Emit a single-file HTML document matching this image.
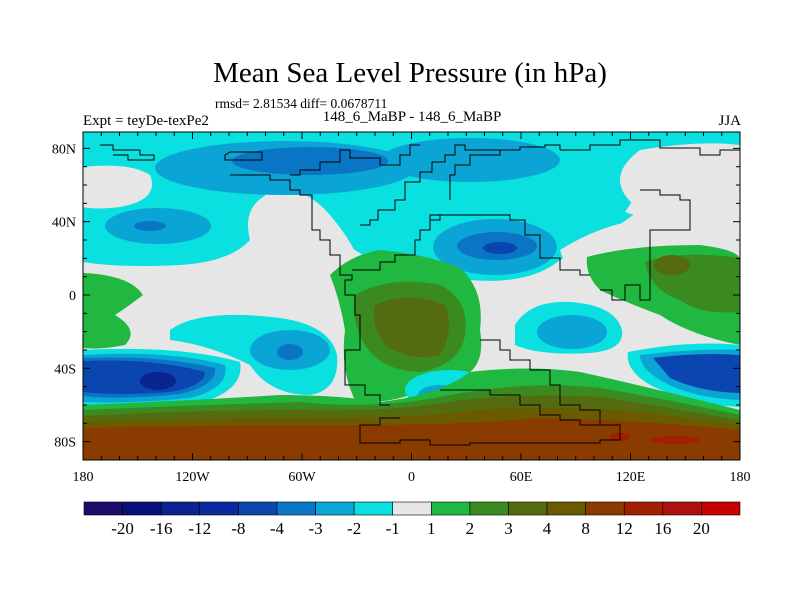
<!DOCTYPE html>
<html><head><meta charset="utf-8"><style>
body{margin:0;background:#fff;width:800px;height:600px;overflow:hidden}
svg{display:block;font-family:"Liberation Serif",serif}
</style></head><body>
<svg id="chart" width="800" height="600" viewBox="0 0 800 600">
<text x="410" y="82" font-size="29" text-anchor="middle">Mean Sea Level Pressure (in hPa)</text>
<text x="215" y="108" font-size="13.5">rmsd= 2.81534 diff= 0.0678711</text>
<text x="83" y="125" font-size="15">Expt = teyDe-texPe2</text>
<text x="412" y="121" font-size="15" text-anchor="middle">148_6_MaBP - 148_6_MaBP</text>
<text x="741" y="125" font-size="15" text-anchor="end">JJA</text>
<defs><clipPath id="mc"><rect x="83" y="132" width="657" height="328"/></clipPath></defs>
<g clip-path="url(#mc)">
<rect x="83" y="132" width="657" height="328" fill="#e6e6e6"/>
<!-- northern cyan -->
<path d="M83 132H740V150Q700 145 640 150Q600 180 640 210Q600 240 560 260Q530 285 470 280Q420 290 390 270Q350 250 330 230Q300 200 280 190Q240 200 250 240Q230 262 180 265Q120 268 83 262Z" fill="#0ae0e0"/>
<path d="M83 167Q130 162 150 175Q160 200 120 207Q95 210 83 207Z" fill="#e6e6e6"/>
<path d="M265 195Q300 180 330 215Q355 245 360 265Q330 280 300 280Q270 260 265 230Z" fill="#e6e6e6"/>
<path d="M640 150Q700 140 740 145V210Q700 205 680 215Q650 222 625 212Q640 190 650 175Z" fill="#e6e6e6"/>
<path d="M560 250Q600 225 640 220Q700 215 740 240V300Q650 300 570 280Z" fill="#e6e6e6"/>
<ellipse cx="285" cy="168" rx="130" ry="27" fill="#0aa5d5"/>
<ellipse cx="470" cy="160" rx="90" ry="22" fill="#0aa5d5"/>
<ellipse cx="310" cy="161" rx="78" ry="14" fill="#0a75c5"/>
<ellipse cx="158" cy="226" rx="53" ry="18" fill="#0aa5d5"/>
<ellipse cx="150" cy="226" rx="16" ry="5" fill="#0a75c5"/>
<ellipse cx="495" cy="247" rx="62" ry="28" fill="#0aa5d5"/>
<ellipse cx="497" cy="246" rx="40" ry="14" fill="#0a75c5"/>
<ellipse cx="500" cy="248" rx="17" ry="6" fill="#0a45b0"/>
<!-- greens -->
<path d="M83 273Q130 275 143 295Q130 305 115 315Q140 330 125 345Q100 350 83 348Z" fill="#20b840"/>
<path d="M330 275Q350 255 380 250Q430 255 460 268Q485 290 480 330Q485 360 470 372Q430 380 410 395Q380 405 355 400Q340 370 345 330Q340 300 330 275Z" fill="#20b840"/>
<path d="M355 295Q390 275 440 285Q470 300 465 335Q460 365 420 372Q380 370 365 345Q350 320 355 295Z" fill="#3a8a20"/>
<path d="M375 305Q410 290 445 305Q455 330 440 355Q410 362 385 345Q370 325 375 305Z" fill="#556b10"/>
<path d="M587 257Q630 245 700 245Q740 250 740 260V345Q690 335 660 315Q620 300 600 290Q585 275 587 257Z" fill="#20b840"/>
<path d="M645 262Q680 250 740 258V312Q700 315 680 300Q650 290 645 262Z" fill="#3a8a20"/>
<ellipse cx="672" cy="265" rx="18" ry="10" fill="#556b10"/>
<!-- southern lows -->
<path d="M170 330Q200 308 280 318Q330 325 337 355Q340 390 310 395Q270 395 250 365Q210 345 170 340Z" fill="#0ae0e0"/>
<ellipse cx="290" cy="350" rx="40" ry="20" fill="#0aa5d5"/>
<ellipse cx="290" cy="352" rx="13" ry="8" fill="#0a75c5"/>
<path d="M515 325Q530 300 570 302Q615 305 622 330Q625 350 590 353Q540 356 515 345Z" fill="#0ae0e0"/>
<ellipse cx="572" cy="332" rx="35" ry="17" fill="#0aa5d5"/>
<ellipse cx="450" cy="390" rx="45" ry="20" fill="#0ae0e0"/>
<ellipse cx="440" cy="395" rx="22" ry="10" fill="#0aa5d5"/>
<path d="M83 350Q180 345 240 362Q245 390 200 403Q140 410 83 408Z" fill="#0ae0e0"/>
<path d="M83 355Q170 350 225 365Q230 388 190 398Q130 404 83 402Z" fill="#0aa5d5"/>
<path d="M83 358Q160 355 215 368Q218 385 180 394Q120 400 83 396Z" fill="#0a75c5"/>
<path d="M83 361Q155 358 205 372Q205 386 170 392Q120 396 83 392Z" fill="#0a45b0"/>
<ellipse cx="158" cy="381" rx="18" ry="9" fill="#0a2590"/>
<path d="M628 352Q690 340 740 345V407Q690 405 650 385Q625 370 628 352Z" fill="#0ae0e0"/>
<path d="M640 355Q700 348 740 350V400Q690 398 660 380Q640 368 640 355Z" fill="#0aa5d5"/>
<path d="M653 358Q700 352 740 355V393Q700 392 670 378Z" fill="#0a45b0"/>
<!-- southern high band -->
<path d="M83 405Q200 400 280 395Q340 395 380 402Q440 395 470 372Q530 365 580 372Q640 385 740 410V460H83Z" fill="#20b840"/>
<path d="M83 410Q200 405 300 402Q380 410 450 395Q530 380 600 388Q660 398 740 415V460H83Z" fill="#3a8a20"/>
<path d="M83 416Q200 410 300 410Q400 412 460 400Q540 392 610 398Q680 410 740 420V460H83Z" fill="#556b10"/>
<path d="M83 422Q200 418 320 418Q420 418 480 410Q560 405 640 412Q700 420 740 425V460H83Z" fill="#6b5a00"/>
<path d="M83 428Q220 425 360 425Q460 425 540 418Q640 420 740 430V460H83Z" fill="#8a3c00"/>
<ellipse cx="620" cy="437" rx="10" ry="4" fill="#a02000"/>
<ellipse cx="675" cy="440" rx="25" ry="4" fill="#a02000"/>
<!-- coastlines -->
<g fill="none" stroke="#000" stroke-width="1">
<path d="M100 145H113V150H140V155H154V160H128V155H113"/>
<path d="M230 152H262V160H225V155Z"/>
<path d="M230 175H270V180H290V190H300V195H312V230H320V240H330V255H340V275H352V280H345V295H355V315H360V350H345V385H365V395H380V405H390"/>
<path d="M290 175H300V170H320V162H340V150H350V158H380V165H400V155H410V145H420"/>
<path d="M360 225H370V220H378V210H395V200H405V182H420V172H432V162H445V155H455V145H465V150H520V147H545V145H560V150"/>
<path d="M352 270H380V262H395V255H415V240H420V230H430V220H440V215"/>
<path d="M430 225V215H450V215H510V220H525V235H540V258H560V270H580V275H590"/>
<path d="M480 150H500V155H470V165H455V175H450V200"/>
<path d="M560 150H590V145H620V140H660V148H700V155H720V150H740"/>
<path d="M640 190H660V195H680V200H690V230H650V300H640V285H625V300H612V290H600"/>
<path d="M480 340H500V350H510V360H530V370H550V385H560V405H580V410H600V425"/>
<path d="M440 390H490V395H520V405H540V415H560V420H580V425H620V440H600V443H470V445H430V440H400V443H360V425H380V418H400"/>
</g>
</g>
<rect x="83" y="132" width="657" height="328" fill="none" stroke="#000" stroke-width="1"/>
<g id="axes" font-size="14"></g>
<g id="cbar"></g>
<script>
const lonTicks=[-180,-120,-60,0,60,120,180];
const lonLabels=["180","120W","60W","0","60E","120E","180"];
const latTicks=[80,40,0,-40,-80];
const latLabels=["80N","40N","0","40S","80S"];
const levels=["-20","-16","-12","-8","-4","-3","-2","-1","1","2","3","4","8","12","16","20"];
const colors=["#1c0c6c","#0a0f7c","#0a2390","#0a2aa0","#0a48b0","#0a78c5","#0aa8d8","#0ae0e0","#e6e6e6","#20b840","#3a8a20","#556b10","#6b5a00","#8a3c00","#a02000","#b01010","#c80000"];
const NS="http://www.w3.org/2000/svg";
const X=l=>83+(l+180)/360*657, Y=l=>295-(l)*1.833;
const ax=document.getElementById('axes');
function mk(t,a,p){const e=document.createElementNS(NS,t);for(const k in a)e.setAttribute(k,a[k]);p.appendChild(e);return e;}
for(let l=-180;l<=180;l+=10){const x=X(l),len=l%60===0?7:4;
 const t1=mk('line',{x1:x,x2:x,y1:460,y2:460-len,stroke:'#000'},ax);
 const t2=mk('line',{x1:x,x2:x,y1:132,y2:132+len,stroke:'#000'},ax);}
for(let l=-90;l<=90;l+=10){const y=Y(l),len=l%40===0?7:4;if(y<132||y>460)continue;
 const t1=mk('line',{x1:83,x2:83+len,y1:y,y2:y,stroke:'#000'},ax);
 const t2=mk('line',{x1:740,x2:740-len,y1:y,y2:y,stroke:'#000'},ax);}
lonTicks.forEach((l,i)=>{const t=mk('text',{x:X(l),y:481,'text-anchor':'middle'},ax);t.textContent=lonLabels[i];
 });
latTicks.forEach((l,i)=>{const t=mk('text',{x:76,y:Y(l)+5,'text-anchor':'end'},ax);t.textContent=latLabels[i];
 });
const cb=document.getElementById('cbar');const w=656/colors.length;
colors.forEach((c,i)=>{const r=mk('rect',{x:84+i*w,y:502,width:w,height:13,fill:c,stroke:'#000','stroke-width':0.6},cb);
 });
levels.forEach((s,i)=>{const t=mk('text',{x:84+(i+1)*w,y:534,'text-anchor':'middle','font-size':17},cb);t.textContent=s;
 });
</script>
</svg>
</body></html>
